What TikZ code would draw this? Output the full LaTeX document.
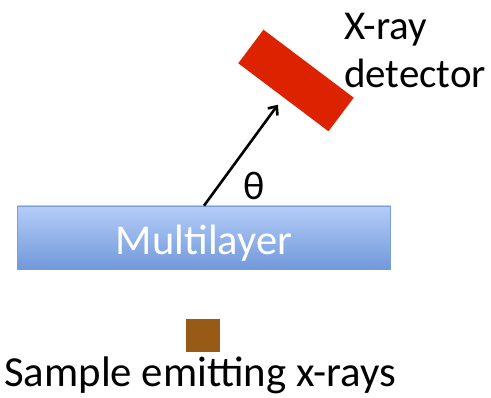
\documentclass[tikz,border=0pt]{standalone}
\usepackage{fontspec}
\setmainfont{Carlito}
\usepackage{xcolor}
\usepackage{tikz}
\usetikzlibrary{calc,positioning,arrows.meta}
\definecolor{mltop}{HTML}{B4CDF8}
\definecolor{mlbottom}{HTML}{7199DA}
\definecolor{mlborder}{HTML}{7A9CD8}
\definecolor{detred}{HTML}{DD2200}
\definecolor{samplebrown}{HTML}{975A17}

\begin{document}
\begin{tikzpicture}[x=1pt, y=1pt]

\useasboundingbox (0, 0) rectangle (491, 398);

% Multilayer
\node[draw=mlborder, line width=0.6pt, top color=mltop, bottom color=mlbottom, minimum width=373, minimum height=63, inner sep=0pt] (ml) at (204, 160.5) {};
\node[anchor=base, font=\fontsize{42.5}{45}\selectfont\color{white}] (mltext) at (204, 143) {Multilayer};

% X-ray detector
\node[fill=detred, rotate=-37, minimum width=113, minimum height=42, inner sep=0pt] (det) at (296, 317.5) {};
\node[anchor=north west, align=left, inner sep=0pt, font=\fontsize{41}{48}\selectfont] (detlabel) at (344, 384.5) {X-ray\\detector};

% Emitted x-ray
\draw[-{Straight Barb[length=7pt, width=12pt]}, line width=2.6pt, shorten >=9pt] (ml.north) -- (det.south);
\node[font=\fontsize{40}{44}\selectfont] (theta) at (254, 212) {θ};

% Sample
\node[fill=samplebrown, minimum width=34, minimum height=33, inner sep=0pt] (sample) at (203, 62) {};
\node[anchor=base west, inner sep=0pt, font=\fontsize{42.8}{45}\selectfont] (samplelabel) at (4, 11.5) {Sample emitting x-rays};

\end{tikzpicture}
\end{document}
